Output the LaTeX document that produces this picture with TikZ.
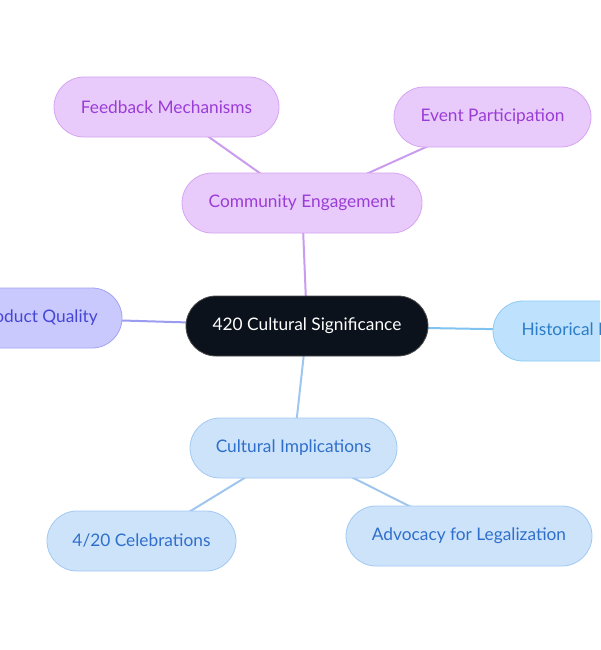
\documentclass[tikz,border=0pt]{standalone}
\usepackage{fontspec}
\setmainfont{Lato}
\usetikzlibrary{backgrounds}
\definecolor{purFill}{HTML}{E8CBFB}
\definecolor{purDraw}{HTML}{D6A4F2}
\definecolor{purText}{HTML}{9A3CD6}
\definecolor{purLine}{HTML}{CB9BEE}
\definecolor{bluFill}{HTML}{CDE3FA}
\definecolor{bluDraw}{HTML}{A2C9F3}
\definecolor{bluText}{HTML}{2F6FCB}
\definecolor{bluLine}{HTML}{9FC6EF}
\definecolor{indFill}{HTML}{C9C9FD}
\definecolor{indDraw}{HTML}{A2A2F5}
\definecolor{indText}{HTML}{4646D6}
\definecolor{indLine}{HTML}{9B9BF0}
\definecolor{skyFill}{HTML}{BEE1FD}
\definecolor{skyDraw}{HTML}{8CCBF5}
\definecolor{skyText}{HTML}{2A7DC6}
\definecolor{skyLine}{HTML}{80C3F0}
\definecolor{ctrFill}{HTML}{0C121B}
\tikzset{
  pill/.style={rounded corners=30pt, inner sep=0pt, minimum height=60pt, line width=0.8pt, font=\fontsize{17.3}{19}\selectfont},
  purpill/.style={pill, fill=purFill, draw=purDraw, text=purText},
  blupill/.style={pill, fill=bluFill, draw=bluDraw, text=bluText},
  indpill/.style={pill, fill=indFill, draw=indDraw, text=indText},
  skypill/.style={pill, fill=skyFill, draw=skyDraw, text=skyText},
  ctrpill/.style={pill, fill=ctrFill, draw=gray!60!black, text=white},
  link/.style={line width=2pt}
}
\begin{document}
\begin{tikzpicture}[x=1pt,y=-1pt]
\useasboundingbox (0,0) rectangle (600,650);
\clip (0,0) rectangle (600,650);
\node[ctrpill, minimum width=242pt] (ctr) at (307,326) {420 Cultural Significance};
\node[purpill, minimum width=240pt] (comm) at (302,203) {Community Engagement};
\node[purpill, minimum width=225pt] (feed) at (166.5,107) {Feedback Mechanisms};
\node[purpill, minimum width=197pt] (event) at (492.5,117) {Event Participation};
\node[indpill, minimum width=168pt] (prod) at (38,318) {Product Quality};
\node[skypill, minimum width=222pt] (hist) at (604,331) {Historical Perspective};
\node[blupill, minimum width=207pt] (cult) at (293.5,448) {Cultural Implications};
\node[blupill, minimum width=189pt] (cele) at (141.5,541) {4/20 Celebrations};
\node[blupill, minimum width=246pt] (advo) at (469,536) {Advocacy for Legalization};
\begin{scope}[on background layer]
\clip (0,0) rectangle (600,650);
\draw[link, purLine] (ctr.center) -- (comm.center);
\draw[link, purLine] (comm.center) -- (feed.center);
\draw[link, purLine] (comm.center) -- (event.center);
\draw[link, indLine] (ctr.center) -- (prod.center);
\draw[link, skyLine] (ctr.center) -- (hist.center);
\draw[link, bluLine] (ctr.center) -- (cult.center);
\draw[link, bluLine] (cult.center) -- (cele.center);
\draw[link, bluLine] (cult.center) -- (advo.center);
\end{scope}
\end{tikzpicture}
\end{document}
